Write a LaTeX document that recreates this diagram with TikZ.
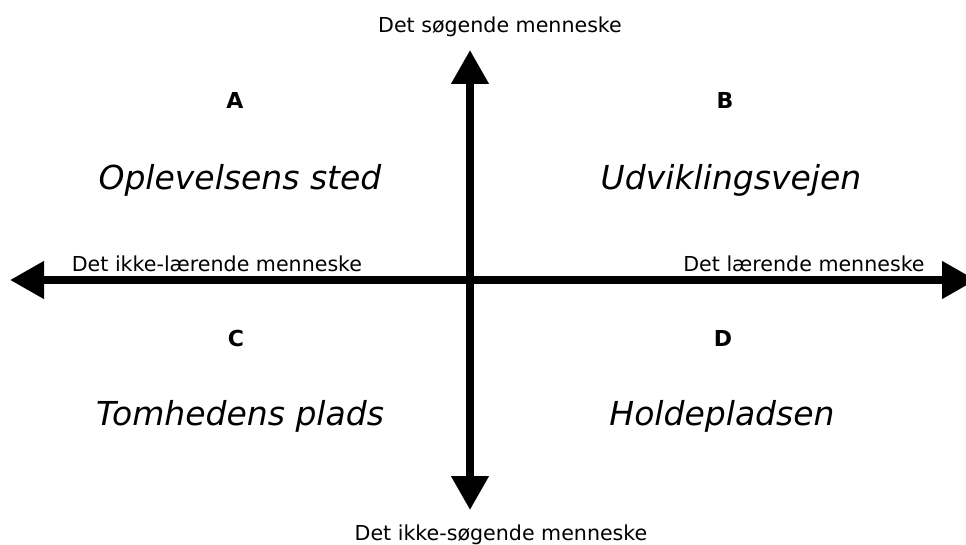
\documentclass[tikz,border=0pt]{standalone}
\usepackage{fontspec}
\setmainfont{DejaVu Sans}
\usetikzlibrary{arrows.meta}

\begin{document}
\begin{tikzpicture}[x=1pt,y=-1pt,>={Triangle[length=34pt,width=36pt]},
  axis/.style={<->,line width=7.5pt},
  axislabel/.style={anchor=base,inner sep=0pt,font=\fontsize{20.6}{24}\selectfont},
  letter/.style={anchor=base,inner sep=0pt,font=\fontsize{22}{26}\selectfont\bfseries},
  quadrant/.style={anchor=base,inner sep=0pt,font=\fontsize{33}{40}\selectfont\itshape}]
  \useasboundingbox (0,0) rectangle (966,545);
  % ends of the two axes
  \coordinate (west)  at (10,280);
  \coordinate (east)  at (976,280);
  \coordinate (north) at (470,50);
  \coordinate (south) at (470,510);
  \draw[axis] (west) -- (east);
  \draw[axis] (north) -- (south);
  % axis labels
  \node[axislabel] (seeking)    at (500,33)  {Det søgende menneske};
  \node[axislabel] (notseeking) at (501,540) {Det ikke-søgende menneske};
  \node[axislabel] (notlearning) at (217,272) {Det ikke-lærende menneske};
  \node[axislabel] (learning)   at (804,272) {Det lærende menneske};
  % quadrants
  \node[letter]   (A)  at (235,109) {A};
  \node[letter]   (B)  at (725,109) {B};
  \node[letter]   (C)  at (236,346) {C};
  \node[letter]   (D)  at (723,346) {D};
  \node[quadrant] (qA) at (240,190) {Oplevelsens sted};
  \node[quadrant] (qB) at (731,190) {Udviklingsvejen};
  \node[quadrant] (qC) at (240,425) {Tomhedens plads};
  \node[quadrant] (qD) at (722,425) {Holdepladsen};
\end{tikzpicture}
\end{document}
